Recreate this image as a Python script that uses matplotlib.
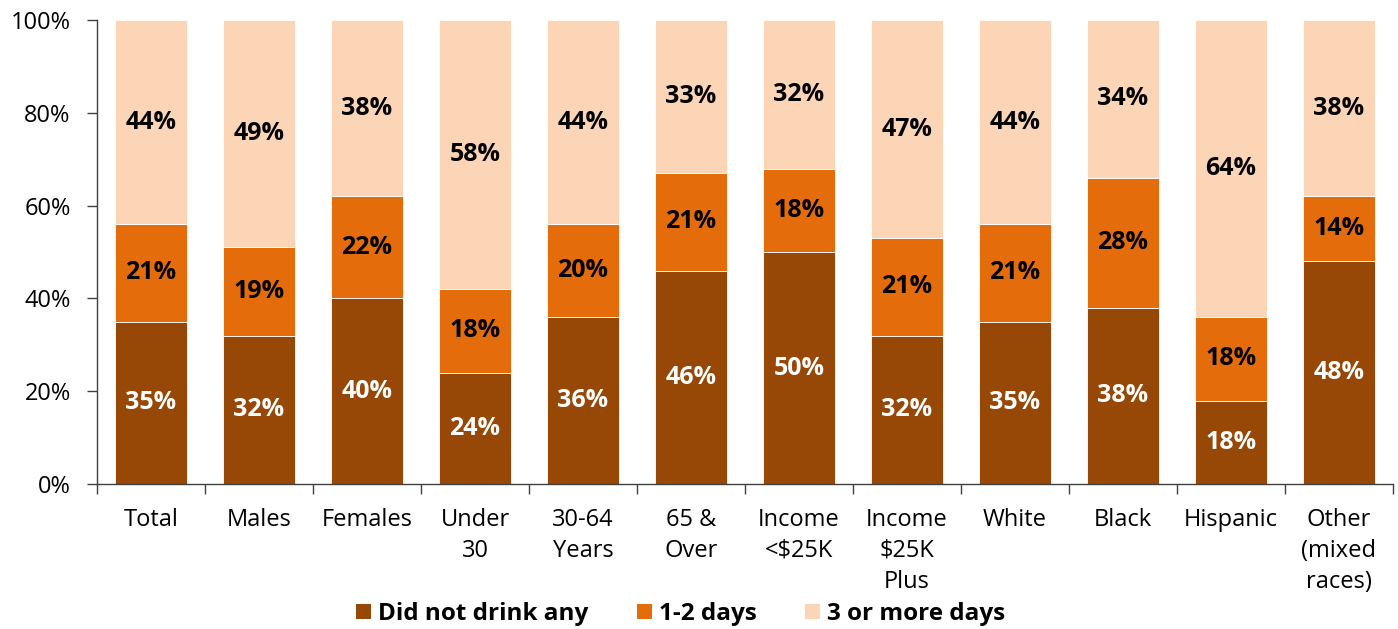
import matplotlib.pyplot as plt
from matplotlib.patches import Patch

plt.rcParams['font.family'] = ['Open Sans', 'DejaVu Sans']

categories = ['Total', 'Males', 'Females', 'Under\n30', '30-64\nYears', '65 &\nOver',
              'Income\n<\\$25K', 'Income\n\\$25K\nPlus', 'White', 'Black', 'Hispanic',
              'Other\n(mixed\nraces)']
none_vals = [35, 32, 40, 24, 36, 46, 50, 32, 35, 38, 18, 48]
one_two_vals = [21, 19, 22, 18, 20, 21, 18, 21, 21, 28, 18, 14]
three_plus_vals = [44, 49, 38, 58, 44, 33, 32, 47, 44, 34, 64, 38]
series_names = ['Did not drink any', '1-2 days', '3 or more days']
colors = ['#974706', '#E46C0A', '#FBD5B5']
text_colors = ['white', 'black', 'black']

fig = plt.figure(figsize=(13.98, 6.29), dpi=100)
ax = fig.add_axes([0.0694, 0.2305, 0.927, 0.7375])

x = list(range(len(categories)))
bottom = [0] * len(categories)
for vals, col, tc in zip([none_vals, one_two_vals, three_plus_vals], colors, text_colors):
    ax.bar(x, vals, width=0.667, bottom=bottom, color=col, edgecolor='white', linewidth=0.6)
    for xi, b, v in zip(x, bottom, vals):
        ax.text(xi, b + v / 2, f'{v}%', ha='center', va='center', color=tc,
                fontsize=18, fontweight='bold')
    bottom = [b + v for b, v in zip(bottom, vals)]

ax.set_xlim(-0.5, len(categories) - 0.5)
ax.set_ylim(0, 100)
ax.set_yticks([0, 20, 40, 60, 80, 100])
ax.set_yticklabels([f'{t}%' for t in [0, 20, 40, 60, 80, 100]])
ax.set_xticks([i - 0.5 for i in range(len(categories) + 1)])
ax.set_xticklabels([])
ax.set_xticks(x, minor=True)
ax.set_xticklabels(categories, minor=True, linespacing=1.4)
ax.tick_params(axis='x', which='major', length=7, width=1, color='#404040')
ax.tick_params(axis='x', which='minor', length=0, pad=17, labelsize=17)
ax.tick_params(axis='y', length=7, width=1, color='#404040', pad=12, labelsize=17)
for s in ['top', 'right']:
    ax.spines[s].set_visible(False)
for s in ['left', 'bottom']:
    ax.spines[s].set_color('#404040')
    ax.spines[s].set_linewidth(1)

handles = [Patch(facecolor=c, edgecolor='none') for c in colors]
fig.legend(handles, series_names, loc='center', bbox_to_anchor=(0.487, 0.024), ncol=3,
           frameon=False, prop={'weight': 'bold', 'size': 17.5},
           handlelength=0.6, handleheight=0.6, handletextpad=0.3, columnspacing=2.0)

fig.savefig('out.png', dpi=100)
